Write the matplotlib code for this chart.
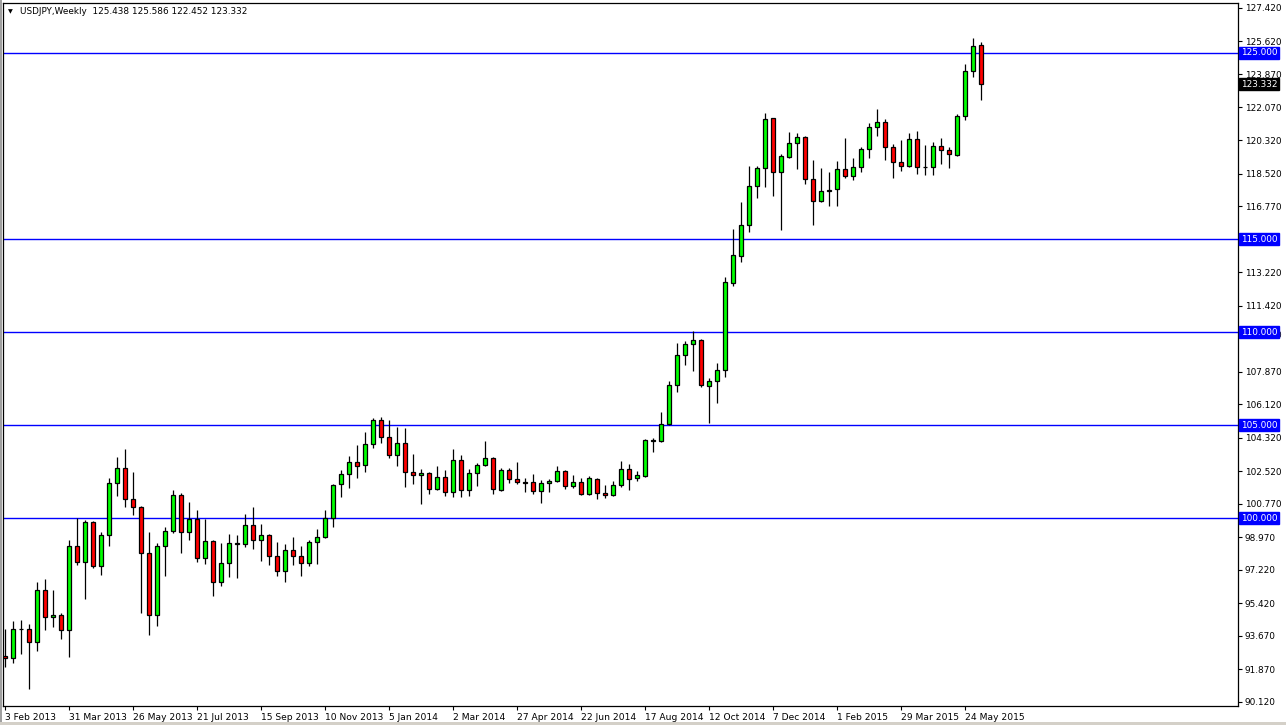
import matplotlib
matplotlib.use("Agg")
import matplotlib.pyplot as plt
import pandas as pd
from matplotlib.patches import Rectangle

# ---------------- data ----------------
opens = [92.58, 92.49, 94.02, 94.05, 93.32, 96.11, 94.66, 94.77, 94.00, 98.48,
         97.62, 99.77, 97.44, 99.07, 101.87, 102.67, 101.01, 100.58, 98.10, 94.77,
         98.48, 99.29, 101.22, 99.23, 99.93, 97.85, 98.75, 96.55, 97.57, 98.58,
         98.59, 99.61, 98.80, 99.07, 97.94, 97.14, 98.27, 97.94, 97.57, 98.70,
         98.96, 100.02, 101.81, 102.35, 103.00, 102.83, 103.96, 105.25, 104.34, 103.37,
         104.02, 102.46, 102.30, 102.41, 101.55, 102.19, 101.38, 103.10, 101.49, 102.41,
         102.83, 103.21, 101.52, 102.57, 102.12, 101.92, 101.92, 101.44, 101.87, 101.97,
         102.51, 101.71, 101.92, 101.28, 102.08, 101.33, 101.22, 101.76, 102.62, 102.14,
         102.24, 104.15, 104.13, 105.04, 107.14, 108.75, 109.34, 109.56, 107.08, 107.35,
         107.94, 112.65, 114.10, 115.74, 117.83, 118.80, 121.49, 118.62, 119.42, 120.15,
         120.47, 118.21, 117.03, 117.57, 117.67, 118.75, 118.37, 118.86, 119.82, 121.01,
         121.27, 119.93, 119.12, 118.91, 120.36, 118.86, 118.86, 119.98, 119.77, 119.50,
         121.60, 124.02, 125.438]
highs = [94.03, 94.46, 94.51, 94.30, 96.56, 96.72, 96.13, 94.91, 98.82, 99.99,
         99.89, 99.86, 99.27, 102.14, 103.26, 103.70, 102.48, 100.65, 99.27, 98.67,
         99.50, 101.49, 101.36, 100.86, 100.43, 99.93, 98.82, 98.64, 99.13, 99.07,
         100.22, 100.59, 99.68, 99.14, 98.71, 98.60, 98.98, 98.50, 98.80, 99.39,
         100.42, 101.81, 102.57, 103.32, 103.91, 104.61, 105.36, 105.42, 105.27, 104.88,
         104.84, 103.43, 102.62, 102.49, 102.78, 102.57, 103.70, 103.37, 102.62, 102.94,
         104.12, 103.28, 102.67, 102.67, 103.01, 102.14, 102.37, 102.03, 102.08, 102.78,
         102.57, 102.30, 102.14, 102.24, 102.14, 101.76, 101.97, 103.05, 102.89, 102.51,
         104.23, 104.29, 105.68, 107.35, 109.39, 109.50, 110.06, 109.61, 107.51, 108.32,
         112.94, 115.54, 116.99, 118.91, 118.92, 121.76, 121.52, 119.55, 120.75, 120.68,
         120.52, 119.25, 118.80, 118.59, 119.18, 120.43, 119.36, 119.93, 121.22, 121.97,
         121.44, 120.09, 120.31, 120.68, 120.79, 120.04, 120.20, 120.41, 119.93, 121.71,
         124.41, 125.79, 125.586]
lows = [91.98, 92.19, 92.69, 90.82, 92.87, 93.98, 94.16, 93.48, 92.55, 97.48,
        95.66, 97.30, 96.95, 98.51, 101.20, 100.61, 100.18, 94.91, 93.73, 94.21,
        96.90, 99.21, 98.14, 98.82, 97.62, 97.55, 95.79, 96.33, 96.85, 96.79,
        98.42, 98.34, 97.71, 97.49, 96.90, 96.55, 97.49, 96.90, 97.44, 97.55,
        98.91, 99.53, 101.12, 101.60, 102.14, 102.46, 103.75, 104.02, 103.21, 102.81,
        101.68, 101.81, 100.74, 101.31, 101.50, 101.20, 101.15, 101.15, 101.20, 101.70,
        102.78, 101.28, 101.47, 101.90, 101.81, 101.38, 101.28, 100.79, 101.38, 101.92,
        101.55, 101.60, 101.22, 101.22, 101.01, 101.06, 101.17, 101.65, 101.49, 101.97,
        102.19, 103.53, 104.07, 104.98, 106.76, 108.21, 107.92, 107.03, 105.13, 106.20,
        107.57, 112.49, 113.76, 115.39, 117.19, 117.78, 117.33, 115.49, 119.34, 118.78,
        117.97, 115.77, 116.97, 116.79, 116.79, 118.26, 118.16, 118.59, 119.34, 120.54,
        119.23, 118.26, 118.64, 118.86, 118.48, 118.44, 118.43, 119.02, 118.80, 119.45,
        121.38, 123.69, 122.452]
closes = [92.48, 94.02, 94.04, 93.32, 96.11, 94.66, 94.77, 94.00, 98.48, 97.62,
          99.77, 97.44, 99.07, 101.87, 102.67, 101.01, 100.58, 98.10, 94.77, 98.48,
          99.29, 101.22, 99.23, 99.93, 97.85, 98.75, 96.55, 97.57, 98.64, 98.64,
          99.61, 98.80, 99.07, 97.94, 97.14, 98.27, 97.94, 97.57, 98.70, 98.96,
          100.02, 101.76, 102.35, 103.00, 102.78, 103.96, 105.25, 104.34, 103.37, 104.02,
          102.46, 102.30, 102.41, 101.55, 102.19, 101.38, 103.10, 101.49, 102.41, 102.83,
          103.21, 101.55, 102.57, 102.12, 101.92, 101.90, 101.44, 101.87, 101.97, 102.51,
          101.71, 101.92, 101.28, 102.14, 101.33, 101.22, 101.76, 102.62, 102.08, 102.30,
          104.18, 104.20, 105.04, 107.14, 108.75, 109.34, 109.56, 107.14, 107.35, 107.94,
          112.67, 114.14, 115.74, 117.83, 118.80, 121.44, 118.62, 119.45, 120.15, 120.47,
          118.21, 117.03, 117.57, 117.62, 118.75, 118.37, 118.86, 119.82, 121.01, 121.27,
          119.93, 119.12, 118.91, 120.36, 118.86, 118.88, 119.98, 119.77, 119.55, 121.60,
          124.02, 125.36, 123.332]

start_date = "2013-02-03"
level_lines = [125.0, 115.0, 110.0, 105.0, 100.0]
price_ticks = [127.42, 125.62, 123.87, 122.07, 120.32, 118.52, 116.77, 113.22,
               111.42, 109.87, 107.87, 106.12, 104.32, 102.52, 100.77, 98.97,
               97.22, 95.42, 93.67, 91.87, 90.12]
title_text = "USDJPY,Weekly  125.438 125.586 122.452 123.332"
label_every = 8

# ---------------- figure ----------------
W, H = 1286, 725
fig = plt.figure(figsize=(W / 100, H / 100), dpi=100, facecolor="white")
L, R, T, B = 3, 1238, 3, 706
ax = fig.add_axes([L / W, 1 - B / H, (R - L) / W, (B - T) / H])
ax.set_facecolor("white")

n = len(opens)
xs = list(range(n))
dates = pd.date_range(start_date, periods=n, freq="7D")

# wicks
ax.vlines(xs, lows, highs, colors="black", linewidth=0.9, zorder=2)
# bodies
bottoms = [min(o, c) for o, c in zip(opens, closes)]
heights = [max(abs(c - o), 0.02) for o, c in zip(opens, closes)]
colors = ["#00FF00" if c >= o else "#FF0000" for o, c in zip(opens, closes)]
ax.bar(xs, heights, bottom=bottoms, width=0.55, color=colors,
       edgecolor="black", linewidth=0.9, zorder=3)

# horizontal levels
for lv in level_lines:
    ax.axhline(lv, color="#0000FF", linewidth=1.0, zorder=1)

ax.set_xlim(-0.25, 154.125)
ax.set_ylim(89.894, 127.688)

# right price axis
ax.yaxis.tick_right()
ax.set_yticks(price_ticks)
ax.set_yticklabels([f"{p:.3f}" for p in price_ticks])
ax.tick_params(axis="y", direction="out", length=3, width=0.8, pad=2,
               labelsize=6.4, colors="black")

# bottom date axis
tick_idx = list(range(0, n, label_every))
ax.set_xticks(tick_idx)
ax.set_xticklabels([f"{dates[i].day} {dates[i].strftime('%b %Y')}" for i in tick_idx])
for lbl in ax.get_xticklabels():
    lbl.set_horizontalalignment("left")
    lbl.set_fontfamily(["Liberation Sans Narrow", "DejaVu Sans"])
ax.tick_params(axis="x", direction="out", length=3, width=0.8, pad=2,
               labelsize=6.6, colors="black")

for s in ax.spines.values():
    s.set_color("black")
    s.set_linewidth(0.9)

# level label boxes
ytrans = ax.get_yaxis_transform()
for lv in level_lines:
    ax.text(1 + 3 / (R - L), lv, f"{lv:.3f}", transform=ytrans, ha="left",
            va="center", fontsize=6.4, color="white", clip_on=False, zorder=6,
            bbox=dict(boxstyle="square,pad=0.18", facecolor="#0000FF",
                      edgecolor="#0000FF"))
# current price box
ax.text(1 + 3 / (R - L), closes[-1], f"{closes[-1]:.3f}", transform=ytrans,
        ha="left", va="center", fontsize=6.4, color="white", clip_on=False,
        zorder=6, bbox=dict(boxstyle="square,pad=0.18", facecolor="black",
                            edgecolor="black"))

# title
ax.text(5 / (R - L), 1 - 9 / (B - T), "\u25BC", transform=ax.transAxes,
        fontsize=4.5, ha="left", va="center", color="black")
ax.text(17 / (R - L), 1 - 9 / (B - T), title_text, transform=ax.transAxes,
        fontsize=6.4, ha="left", va="center", color="black")

# window edges
fig.patches.append(Rectangle((0, 0), 2 / W, 1, transform=fig.transFigure,
                             facecolor="#A0A0A0", edgecolor="none"))
fig.patches.append(Rectangle((0, 0), 1, 3 / H, transform=fig.transFigure,
                             facecolor="#D4D0C8", edgecolor="none"))

fig.savefig("out.png", dpi=100, facecolor="white")
